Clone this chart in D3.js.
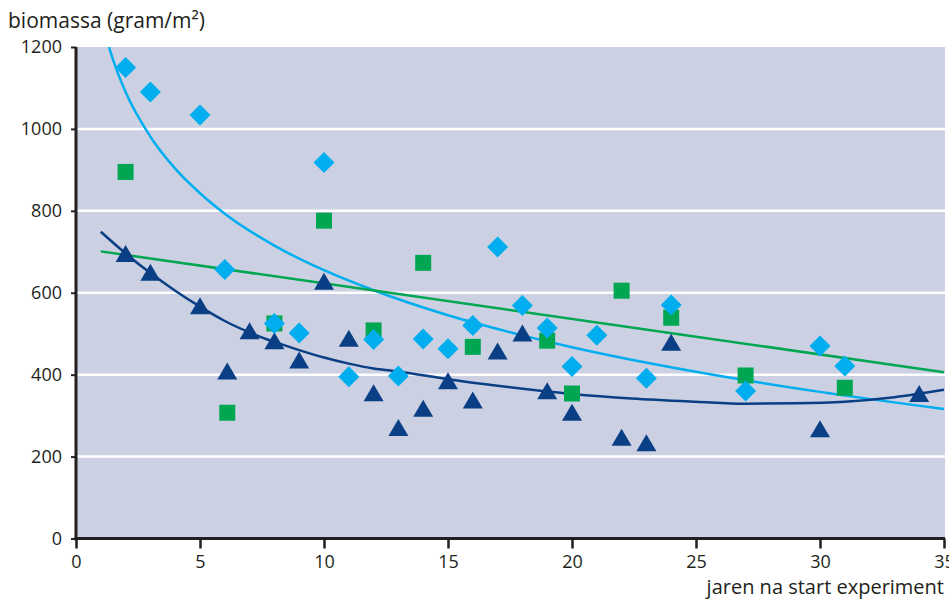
<!DOCTYPE html>
<meta charset="utf-8">
<script src="https://d3js.org/d3.v7.min.js"></script>
<style>
  body { margin: 0; background: #fff; }
  text { font-family: "Open Sans", sans-serif; fill: #231f20; }
</style>
<div id="chart"></div>
<script>
// diamonds (light blue)
var diamondX = [2, 3, 5, 6, 8, 9, 10, 11, 12, 13, 14, 15, 16, 17, 18, 19, 20, 21, 23, 24, 27, 30, 31];
var diamondY = [1150, 1090, 1034, 657, 525, 502, 918, 395, 486, 397, 487, 463, 520, 712, 569, 514, 420, 496, 391, 570, 360, 470, 421];

// squares (green)
var squareX = [2, 6.1, 8, 10, 12, 14, 16, 19, 20, 22, 24, 27, 31];
var squareY = [895, 307, 525, 776, 508, 673, 468, 483, 354, 605, 539, 398, 368];

// triangles (dark blue)
var triX = [2, 3, 5, 6.1, 7, 8, 9, 10, 11, 12, 13, 14, 15, 16, 17, 18, 19, 20, 22, 23, 24, 30, 34];
var triY = [696, 650, 568, 409, 507, 483, 436, 628, 489, 356, 271, 318, 385, 338, 458, 502, 361, 308, 247, 234, 479, 268, 354];

// trend lines
var lightTrendX = [1.33, 1.5, 2, 3, 4, 5, 6, 8, 10, 12, 15, 18, 20, 25, 30, 35];
var lightTrendY = [1200, 1168, 1090, 981, 903, 843, 793, 715, 655, 606, 545, 496, 467, 407, 358, 316];

var greenTrendX = [1, 35];
var greenTrendY = [701, 406];

var darkTrendX = [1, 2, 3, 4, 5, 6, 7, 8, 9, 10, 11, 12, 13, 15, 17, 20, 22.4, 25, 27, 29, 31, 33, 35];
var darkTrendY = [749, 696, 648, 605, 566, 531, 503, 480, 460, 442, 427, 415, 408, 389, 373, 353, 342, 334, 329, 330, 334, 345, 363];

var xTicks = [0, 5, 10, 15, 20, 25, 30, 35];
var yTicks = [0, 200, 400, 600, 800, 1000, 1200];

var W = 949, H = 601;
var margin = {top: 47, right: 5, bottom: 63, left: 76};
var width = 944 - margin.left,
    height = 538.5 - margin.top;

var svg = d3.select("#chart").append("svg")
  .attr("width", W).attr("height", H);

var g = svg.append("g")
  .attr("transform", "translate(" + margin.left + "," + margin.top + ")");

var x = d3.scaleLinear().domain([0, 35]).range([0, width]);
var y = d3.scaleLinear().domain([0, 1200]).range([height, 0]);

// plot background
g.append("rect")
  .attr("x", 0).attr("y", 0)
  .attr("width", width + 1).attr("height", height)
  .attr("fill", "#cbd1e3");

// white gridlines
g.selectAll(".grid")
  .data(yTicks.filter(function(d) { return d > 0 && d < 1200; }))
  .enter().append("line")
  .attr("x1", 0).attr("x2", width + 1)
  .attr("y1", function(d) { return y(d); })
  .attr("y2", function(d) { return y(d); })
  .attr("stroke", "#fff")
  .attr("stroke-width", 2.5);

g.append("clipPath").attr("id", "clip")
  .append("rect").attr("width", width + 1).attr("height", height);

function pairs(xs, ys) {
  return xs.map(function(d, i) { return [d, ys[i]]; });
}

var line = d3.line()
  .x(function(d) { return x(d[0]); })
  .y(function(d) { return y(d[1]); })
  .curve(d3.curveMonotoneX);

var lines = g.append("g").attr("clip-path", "url(#clip)");
lines.append("path").datum(pairs(lightTrendX, lightTrendY))
  .attr("d", line).attr("fill", "none")
  .attr("stroke", "#00aeef").attr("stroke-width", 2.5);
lines.append("path").datum(pairs(greenTrendX, greenTrendY))
  .attr("d", line).attr("fill", "none")
  .attr("stroke", "#00a651").attr("stroke-width", 2.5);
lines.append("path").datum(pairs(darkTrendX, darkTrendY))
  .attr("d", line).attr("fill", "none")
  .attr("stroke", "#0a3f85").attr("stroke-width", 2.5);

// markers
g.selectAll(".tri")
  .data(pairs(triX, triY))
  .enter().append("path")
  .attr("d", function(d) {
    var cx = x(d[0]), cy = y(d[1]);
    return "M" + cx + "," + (cy - 8.5) + "L" + (cx + 10) + "," + (cy + 8.5) + "L" + (cx - 10) + "," + (cy + 8.5) + "Z";
  })
  .attr("fill", "#0a3f85");

g.selectAll(".sq")
  .data(pairs(squareX, squareY))
  .enter().append("rect")
  .attr("x", function(d) { return x(d[0]) - 8; })
  .attr("y", function(d) { return y(d[1]) - 8; })
  .attr("width", 16).attr("height", 16)
  .attr("fill", "#00a651");

g.selectAll(".dia")
  .data(pairs(diamondX, diamondY))
  .enter().append("path")
  .attr("d", function(d) {
    var cx = x(d[0]), cy = y(d[1]), r = 10.5;
    return "M" + cx + "," + (cy - r) + "L" + (cx + r) + "," + cy + "L" + cx + "," + (cy + r) + "L" + (cx - r) + "," + cy + "Z";
  })
  .attr("fill", "#00aeef");

// axes
var yAxis = g.append("g")
  .call(d3.axisLeft(y).tickValues(yTicks).tickSize(5).tickPadding(9).tickFormat(d3.format("d")));
yAxis.select(".domain").remove();
yAxis.selectAll("line").attr("stroke", "#231f20").attr("stroke-width", 2);
yAxis.selectAll("text").style("font-size", "18px").attr("fill", "#231f20");

var xAxis = g.append("g")
  .attr("transform", "translate(0," + height + ")")
  .call(d3.axisBottom(x).tickValues(xTicks).tickSize(10).tickPadding(7).tickFormat(d3.format("d")));
xAxis.select(".domain").remove();
xAxis.selectAll("line").attr("stroke", "#231f20").attr("stroke-width", 2.5);
xAxis.selectAll("text").style("font-size", "18px").attr("fill", "#231f20");

g.append("line")
  .attr("x1", 0).attr("x2", 0).attr("y1", 0).attr("y2", height + 2)
  .attr("stroke", "#231f20").attr("stroke-width", 3);
g.append("line")
  .attr("x1", -1.5).attr("x2", width + 1).attr("y1", height).attr("y2", height)
  .attr("stroke", "#231f20").attr("stroke-width", 3);

// titles
svg.append("text")
  .attr("x", 8).attr("y", 28)
  .style("font-size", "21px")
  .text("biomassa (gram/m²)");

svg.append("text")
  .attr("x", 944).attr("y", 594)
  .attr("text-anchor", "end")
  .style("font-size", "20px")
  .text("jaren na start experiment");
</script>
